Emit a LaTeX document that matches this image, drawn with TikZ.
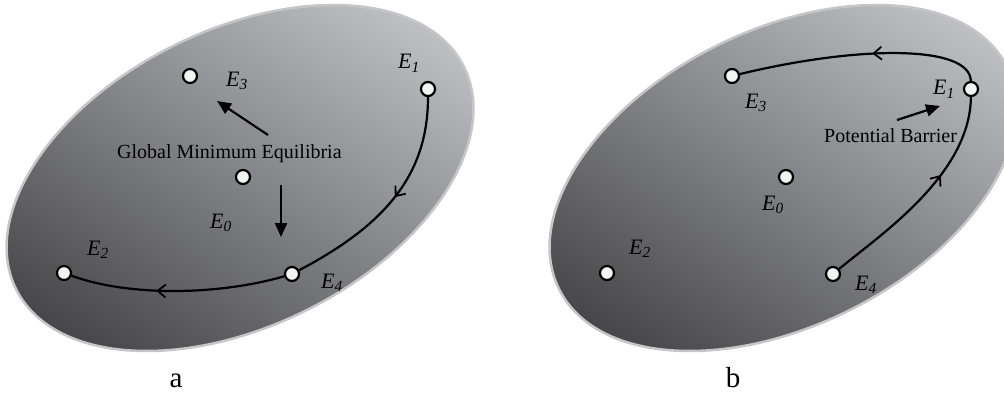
\documentclass[tikz,border=0pt]{standalone}
\usepackage{fontspec}
\setmainfont{Liberation Serif}
\usetikzlibrary{arrows.meta,decorations.markings}
\definecolor{elight}{HTML}{BDBEC2}
\definecolor{emid}{HTML}{939397}
\definecolor{edark}{HTML}{47474A}
\definecolor{erim}{HTML}{C6C6C8}
\definecolor{ptfill}{HTML}{F2F4F2}
\tikzset{
  pt/.style={circle,draw=black,fill=ptfill,line width=2.2pt,minimum size=14pt,inner sep=0pt},
  elab/.style={anchor=base west,inner sep=0pt,font=\fontsize{22}{26}\selectfont\itshape},
  txt/.style={anchor=base west,inner sep=0pt,font=\fontsize{20}{24}\selectfont},
  panlab/.style={anchor=base,inner sep=0pt,font=\fontsize{29}{34}\selectfont},
  traj/.style={line width=2.2pt},
  midarr/.style={postaction={decorate},decoration={markings,mark=at position #1 with {\arrow{Straight Barb[length=8pt,width=13pt,line width=1.8pt]}}}},
  pointer/.style={line width=2.2pt,-{Triangle[length=14pt,width=12pt]}},
  surf/.style={draw=erim,line width=2.5pt}
}
\begin{document}
\begin{tikzpicture}[x=1pt,y=-1pt]
\useasboundingbox (0,0) rectangle (1004,396);
\fill[white] (0,0) rectangle (1004,396);
% surfaces
\foreach \dx in {0,543}{
  \begin{scope}[xshift=\dx pt]
    \begin{scope}
      \clip[rotate around={26.4:(240,178)}] (240,178) ellipse [x radius=250pt, y radius=148pt];
      \shade[top color=elight, middle color=emid, bottom color=edark, shading angle=-32] (-20,-20) rectangle (500,380);
    \end{scope}
    \draw[surf,rotate around={26.4:(240,178)}] (240,178) ellipse [x radius=250pt, y radius=148pt];
  \end{scope}
}
% panel a points
\node[pt] (a1) at (428,89) {};
\node[pt] (a3) at (190,76) {};
\node[pt] (a0) at (243,177) {};
\node[pt] (a2) at (64,273) {};
\node[pt] (a4) at (292,274) {};
\node[elab] (la1) at (398,69) {E\textsubscript{1}};
\node[elab] (la3) at (226,86) {E\textsubscript{3}};
\node[elab] (la0) at (210,228) {E\textsubscript{0}};
\node[elab] (la2) at (87,255) {E\textsubscript{2}};
\node[elab] (la4) at (321,288) {E\textsubscript{4}};
\node[txt] (gme) at (117,158) {Global Minimum Equilibria};
\coordinate (p1s) at (268,135);
\coordinate (p1e) at (217,101);
\coordinate (p2s) at (281,185);
\coordinate (p2e) at (281,237);
\draw[pointer] (p1s) -- (p1e);
\draw[pointer] (p2s) -- (p2e);
\draw[traj,midarr=0.47] (a1) .. controls (428,175) and (385,225) .. (a4);
\draw[traj,midarr=0.6] (a4) .. controls (220,295) and (130,297) .. (a2);
\node[panlab] (pa) at (176,387) {a};
% panel b points
\node[pt] (b1) at (971,89) {};
\node[pt] (b3) at (732,76) {};
\node[pt] (b0) at (786,177) {};
\node[pt] (b2) at (607,273) {};
\node[pt] (b4) at (833,274) {};
\node[elab] (lb1) at (933,95) {E\textsubscript{1}};
\node[elab] (lb3) at (745,108) {E\textsubscript{3}};
\node[elab] (lb0) at (762,210) {E\textsubscript{0}};
\node[elab] (lb2) at (629,254) {E\textsubscript{2}};
\node[elab] (lb4) at (855,290) {E\textsubscript{4}};
\node[txt] (pb) at (824,142) {Potential Barrier};
\coordinate (p3s) at (897,120);
\coordinate (p3e) at (940,106);
\draw[pointer] (p3s) -- (p3e);
\draw[traj,midarr=0.62] (b4) .. controls (880,235) and (970,175) .. (b1);
\draw[traj,midarr=0.45] (b1) .. controls (970,45) and (860,45) .. (b3);
\node[panlab] (pbl) at (733,387) {b};
\end{tikzpicture}
\end{document}
